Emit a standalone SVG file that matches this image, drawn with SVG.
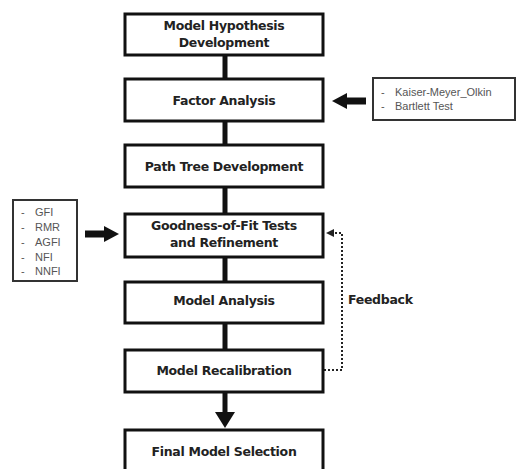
<svg xmlns="http://www.w3.org/2000/svg" width="517" height="469" viewBox="0 0 517 469">
<style>
.box{fill:#fff;stroke:#111;stroke-width:3}
.t{font-family:"DejaVu Sans",sans-serif;font-weight:bold;font-size:12.5px;fill:#222;text-anchor:middle;letter-spacing:-0.3px}
.side{fill:#fff;stroke:#333;stroke-width:2}
.s{font-family:"Liberation Sans",Arial,sans-serif;font-size:11px;fill:#555}
.c{stroke:#111;stroke-width:5;fill:none}
</style>
<rect width="517" height="469" fill="#fff"/>
<g id="connectors">
<line class="c" x1="225" y1="55" x2="225" y2="78"/>
<line class="c" x1="225" y1="121" x2="225" y2="144"/>
<line class="c" x1="225" y1="187" x2="225" y2="213"/>
<line class="c" x1="225" y1="257" x2="225" y2="282"/>
<line class="c" x1="225" y1="323" x2="225" y2="349"/>
<line class="c" x1="225" y1="392" x2="225" y2="414"/>
<polygon points="215,412 235,412 225,428" fill="#111"/>
<line x1="366" y1="101" x2="345" y2="101" stroke="#111" stroke-width="7"/>
<polygon points="347,93 347,109 332,101" fill="#111"/>
<line x1="85" y1="234" x2="105" y2="234" stroke="#111" stroke-width="7"/>
<polygon points="104,226 104,242 119,234" fill="#111"/>
<polyline points="324,370 342,370 342,233 333,233" fill="none" stroke="#222" stroke-width="2" stroke-dasharray="2,2"/>
<polygon points="334,229 334,237 326,233" fill="#222"/>
</g>
<g id="n1"><rect class="box" x="125" y="14" width="198" height="41"/><text class="t" x="224" y="30">Model Hypothesis</text><text class="t" x="224" y="47">Development</text></g>
<g id="n2"><rect class="box" x="125" y="79" width="198" height="42"/><text class="t" x="224" y="105">Factor Analysis</text></g>
<g id="n3"><rect class="box" x="125" y="145" width="198" height="42"/><text class="t" x="224" y="171">Path Tree Development</text></g>
<g id="n4"><rect class="box" x="125" y="214" width="198" height="43"/><text class="t" x="224" y="230">Goodness-of-Fit Tests</text><text class="t" x="224" y="247">and Refinement</text></g>
<g id="n5"><rect class="box" x="125" y="282" width="198" height="41"/><text class="t" x="224" y="305">Model Analysis</text></g>
<g id="n6"><rect class="box" x="125" y="350" width="198" height="42"/><text class="t" x="224" y="375">Model Recalibration</text></g>
<g id="n7"><rect class="box" x="125" y="430" width="198" height="50"/><text class="t" x="224" y="456">Final Model Selection</text></g>
<g id="kmo"><rect class="side" x="373" y="78" width="142" height="42"/><text class="s" x="381" y="96">-</text><text class="s" x="395" y="96">Kaiser-Meyer_Olkin</text><text class="s" x="381" y="110">-</text><text class="s" x="395" y="110">Bartlett Test</text></g>
<g id="fit"><rect class="side" x="13" y="200" width="64" height="81"/>
<text class="s" x="21" y="216">-</text><text class="s" x="35" y="216">GFI</text>
<text class="s" x="21" y="231">-</text><text class="s" x="35" y="231">RMR</text>
<text class="s" x="21" y="246">-</text><text class="s" x="35" y="246">AGFI</text>
<text class="s" x="21" y="261">-</text><text class="s" x="35" y="261">NFI</text>
<text class="s" x="21" y="275">-</text><text class="s" x="35" y="275">NNFI</text></g>
<text x="348" y="304" font-family="DejaVu Sans,sans-serif" font-weight="bold" font-size="12.5" fill="#222" letter-spacing="-0.3">Feedback</text>
</svg>
